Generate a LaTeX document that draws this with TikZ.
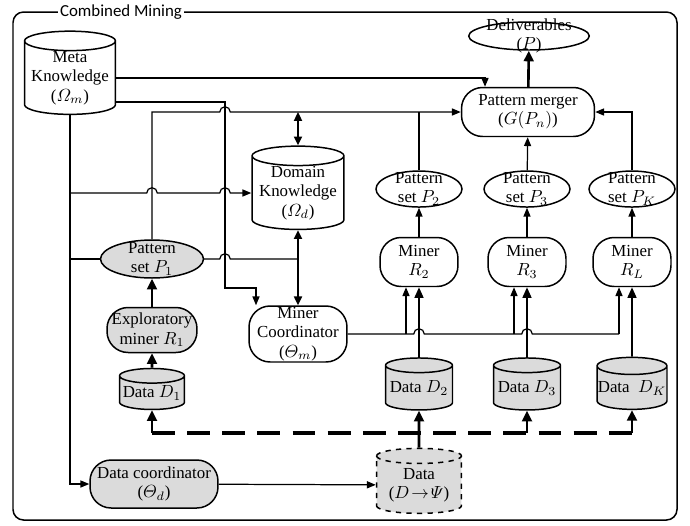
\documentclass[tikz,border=0pt]{standalone}
\usepackage{amsmath}
\usepackage{fontspec}
\setmainfont{Liberation Serif}
\newfontfamily\titlefont{Carlito}
\usepackage{tikz}
\usetikzlibrary{positioning,shapes.geometric,arrows.meta,calc}
\definecolor{boxgray}{gray}{0.86}
% a line hop over a crossing wire
\newcommand{\jump}[1]{-- ([xshift=-3pt]#1) arc[start angle=180,end angle=0,radius=3pt]}

\begin{document}
\begin{tikzpicture}[x=0.02cm,y=-0.02cm,line width=0.7pt,
    font=\fontsize{9.6}{11}\selectfont,
    db/.style={cylinder,shape border rotate=90,aspect=0.25,draw,line width=0.85pt,inner sep=0pt,align=center},
    pill/.style={rectangle,rounded corners=12pt,draw,line width=0.85pt,inner sep=0pt,align=center},
    oval/.style={ellipse,draw,line width=0.85pt,inner xsep=0pt,inner ysep=-6pt,align=center},
    shade/.style={fill=boxgray},
    arr/.style={-{Triangle[length=5pt,width=4pt]}},
    bigarr/.style={-{Triangle[length=6pt,width=5.5pt]},line width=1.5pt},
    dashline/.style={line width=2.3pt,dash pattern=on 13pt off 7pt}]
  \useasboundingbox (0,0) rectangle (690,525);
  \draw[line width=0.85pt,rounded corners=6pt] (13,12) rectangle (677,520);
  \node[fill=white,inner sep=1pt,font=\titlefont\fontsize{9.6}{11}\selectfont] (title) at (121,12) {Combined Mining};

  \node(meta) [db,minimum width=1.82cm,minimum height=1.6cm] at (70,78) {Meta\\Knowledge\\($\varOmega_m$)};
  \node(dlv) [oval,minimum width=2.24cm,minimum height=0.56cm] at (529,36) {Deliverables\\($P$)};
  \node(merge) [pill,minimum width=2.66cm,minimum height=0.98cm] at (528,112) {Pattern merger\\($G(P_n)$)};
  \node(dk) [db,minimum width=1.84cm,minimum height=1.54cm] at (298,193) {Domain\\Knowledge\\($\varOmega_d$)};
  \node(p1) [oval,shade,minimum width=2.06cm,minimum height=0.76cm] at (152,259) {Pattern\\set $P_1$};
  \node(r1) [pill,shade,minimum width=1.8cm,minimum height=0.9cm] at (152,330) {Exploratory\\miner $R_1$};
  \node(d1) [db,shade,minimum width=1.3cm,minimum height=0.82cm] at (152,393) {Data $D_1$};
  \node(mc) [pill,minimum width=1.96cm,minimum height=1.12cm] at (298,334) {Miner\\Coordinator\\($\varTheta_m$)};
  \node(dc) [pill,shade,minimum width=2.56cm,minimum height=0.96cm] at (154,484) {Data coordinator\\($\varTheta_d$)};
  \node(dall) [db,shade,dashed,minimum width=1.7cm,minimum height=1.3cm] at (419,485) {Data\\($D\!\rightarrow\!\varPsi$)};

  \node(r2) [pill,minimum width=1.56cm,minimum height=0.98cm] at (419,262) {Miner\\$R_2$};
  \node(r3) [pill,minimum width=1.56cm,minimum height=0.98cm] at (527,262) {Miner\\$R_3$};
  \node(rl) [pill,minimum width=1.56cm,minimum height=0.98cm] at (632,262) {Miner\\$R_L$};
  \node(p2) [oval,minimum width=1.72cm,minimum height=0.72cm,above=0.58cm of r2] {Pattern\\set $P_2$};
  \node(p3) [oval,minimum width=1.72cm,minimum height=0.72cm,above=0.58cm of r3] {Pattern\\set $P_3$};
  \node(pk) [oval,minimum width=1.72cm,minimum height=0.72cm,above=0.58cm of rl] {Pattern\\set $P_K$};
  \node(d2) [db,shade,minimum width=1.34cm,minimum height=1.04cm] at (419,388) {Data $D_2$};
  \node(d3) [db,shade,minimum width=1.34cm,minimum height=1.04cm] at (527,388) {Data $D_3$};
  \node(dkk) [db,shade,minimum width=1.4cm,minimum height=1.04cm] at (632,388) {Data\ \ $D_K$};

  \coordinate (turn) at (225,102);
  \coordinate (drop) at (256,288);
  \coordinate (dashy) at (0,433);
  \coordinate (b2) at ($(r2.south)+(-13,0)$);
  \coordinate (b3) at ($(r3.south)+(-13,0)$);
  \coordinate (b4) at ($(rl.south)+(-13,0)$);

  % meta knowledge outputs
  \draw[arr] (meta.east) -| ($(merge.north)+(-43,0)$);
  \draw[arr] (meta.east |- turn) -- (turn) -- (turn |- drop) -- (drop) -- (drop |- mc.north);
  \draw[arr] (meta.south) |- (dc.west);
  \draw[arr] (meta.south |- dk.west) \jump{p1.north |- dk.west} \jump{turn |- dk.west} -- (dk.west);
  \draw (meta.south |- p1.west) -- (p1.west);
  \draw (p1.east) \jump{turn |- p1.east} -- (dk.south |- p1.east);
  \draw[<->,>={Triangle[length=5pt,width=4.5pt]},line width=1.1pt] (dk.south) -- (mc.north);
  \draw[<->,>={Triangle[length=5pt,width=4.5pt]},line width=1.1pt] (dk.north |- merge.west) -- (dk.north);

  % patterns into the merger
  \draw[arr] (p1.north) -- (p1.north |- merge.west) \jump{turn |- merge.west} -- (merge.west);
  \draw (p2.north) -- (p2.north |- merge.west);
  \draw[arr] (p3) -- (merge);
  \draw[arr] (pk.north) |- (merge.east);
  \draw[bigarr] (merge) -- (dlv);

  % miners
  \draw[bigarr] (d1) -- (r1);
  \draw[bigarr] (r1) -- (p1);
  \foreach \r/\p in {r2/p2,r3/p3,rl/pk}
    \draw[arr] (\r) -- (\p);
  \draw (mc.east) \jump{d2.north |- mc.east} \jump{d3.north |- mc.east} -- (b4 |- mc.east);
  \foreach \b in {b2,b3,b4}
    \draw[arr] (\b |- mc.east) -- (\b);
  \foreach \d/\r in {d2/r2,d3/r3,dkk/rl}
    \draw[-{Triangle[length=6pt,width=5pt]},line width=1.1pt] (\d.north) -- (\r.south);

  % data partitioning
  \draw[arr] (dc) -- (dall);
  \draw[dashline] (d1.south |- dashy) -- (dkk.south |- dashy);
  \foreach \d in {d1,d3,dkk}
    \draw[bigarr] (\d.south |- dashy) -- (\d.south);
  \draw[bigarr] (dall) -- (d2);
\end{tikzpicture}
\end{document}
